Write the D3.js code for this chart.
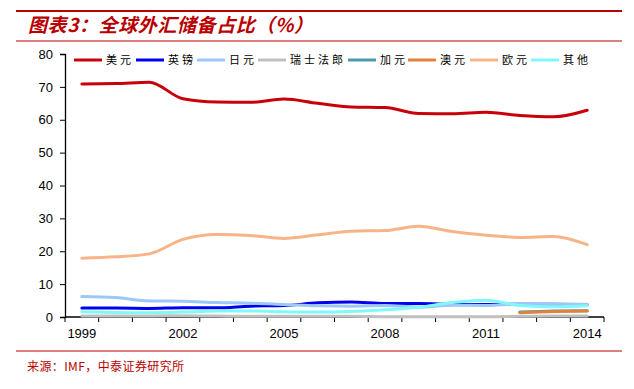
<!DOCTYPE html>
<html>
<head>
<meta charset="utf-8">
<script src="https://cdn.jsdelivr.net/npm/d3@7"></script>
<style>
  body { margin: 0; background: #fff; }
  svg text { font-family: "Liberation Sans", Arial, sans-serif; }
</style>
</head>
<body>
<div id="chart"></div>
<script>
// Data
const years = ["1999","2000","2001","2002","2003","2004","2005","2006","2007","2008","2009","2010","2011","2012","2013","2014"];
const yearLabels = ["1999","2002","2005","2008","2011","2014"];
const yTicks = [0,10,20,30,40,50,60,70,80];

const usd = [70.9,71.0,71.4,66.4,65.4,65.3,66.3,65.0,63.9,63.7,61.9,61.8,62.3,61.3,60.9,62.9];
const gbp = [2.7,2.7,2.6,2.8,2.8,3.3,3.5,4.3,4.6,4.1,4.1,3.9,3.8,3.9,3.9,3.8];
const jpy = [6.2,5.9,4.9,4.8,4.4,4.2,3.8,3.4,3.3,3.5,3.0,3.6,3.5,4.0,3.9,3.9];
const chf = [0.3,0.3,0.3,0.4,0.3,0.2,0.2,0.2,0.2,0.1,0.1,0.1,0.1,0.2,0.3,0.3];
const cad = [null,null,null,null,null,null,null,null,null,null,null,null,null,1.5,1.8,1.9];
const aud = [null,null,null,null,null,null,null,null,null,null,null,null,null,1.3,1.7,1.8];
const eur = [17.9,18.3,19.2,23.6,25.1,24.8,23.9,25.0,26.1,26.3,27.6,26.0,24.9,24.2,24.5,22.0];
const other = [1.6,1.4,1.3,1.5,1.8,1.8,1.6,1.5,1.7,2.2,3.0,4.4,5.1,3.5,3.1,3.4];

const seriesNames = ["美元","英镑","日元","瑞士法郎","加元","澳元","欧元","其他"];
const seriesValues = [usd, gbp, jpy, chf, cad, aud, eur, other];
const colors = ["#C8000A","#0000F0","#9CC8F8","#C0C0C0","#4A98B4","#E0823C","#F8B488","#80F8F8"];

const W = 634, H = 389;
const red = "#B80000";

const svg = d3.select("#chart").append("svg")
  .attr("width", W)
  .attr("height", H);

// header and footer rules
svg.append("line").attr("x1", 16).attr("x2", 622).attr("y1", 11).attr("y2", 11)
  .attr("stroke", red).attr("stroke-width", 2);
svg.append("line").attr("x1", 16).attr("x2", 622).attr("y1", 41).attr("y2", 41)
  .attr("stroke", red).attr("stroke-width", 1.2);
svg.append("line").attr("x1", 16).attr("x2", 622).attr("y1", 351).attr("y2", 351)
  .attr("stroke", red).attr("stroke-width", 1.2);

svg.append("text")
  .attr("x", 28).attr("y", 32)
  .attr("fill", red)
  .style("font-family", "'Noto Sans CJK SC', sans-serif")
  .style("font-size", "19px")
  .style("font-weight", "bold")
  .style("font-style", "italic")
  .style("letter-spacing", "0.6px")
  .text("图表3：全球外汇储备占比（%）");

svg.append("text")
  .attr("x", 27).attr("y", 371)
  .attr("fill", red)
  .style("font-family", "'Noto Sans CJK SC', sans-serif")
  .style("font-size", "12px")
  .style("letter-spacing", "0.4px")
  .text("来源：IMF，中泰证券研究所");

// scales
const x = d3.scaleBand().domain(years).range([65, 604]);
const y = d3.scaleLinear().domain([0, 80]).range([317, 54]);
const cx = d => x(d) + x.bandwidth() / 2;

// y axis
const yAxis = svg.append("g")
  .attr("transform", "translate(65,0)")
  .call(d3.axisLeft(y).tickValues(yTicks).tickSize(5).tickPadding(7));
yAxis.select(".domain").attr("stroke", "#000").attr("stroke-width", 1.3);
yAxis.selectAll("text").style("font-size", "13px").attr("fill", "#000");

// x axis: tick marks at band edges, labels every 3 years
const xAxis = svg.append("g").attr("transform", "translate(0,317)");
xAxis.append("line").attr("x1", 65).attr("x2", 604)
  .attr("stroke", "#000").attr("stroke-width", 1.3);
xAxis.selectAll("line.tk")
  .data(years.concat(["end"]))
  .enter().append("line")
  .attr("class", "tk")
  .attr("x1", (d, i) => 65 + i * x.bandwidth())
  .attr("x2", (d, i) => 65 + i * x.bandwidth())
  .attr("y1", 0).attr("y2", 5)
  .attr("stroke", "#000");
xAxis.selectAll("text")
  .data(yearLabels)
  .enter().append("text")
  .attr("x", d => cx(d))
  .attr("y", 21)
  .attr("text-anchor", "middle")
  .style("font-size", "13px")
  .text(d => d);

// lines
const line = d3.line()
  .defined(d => d.v != null)
  .x(d => cx(d.year))
  .y(d => y(d.v))
  .curve(d3.curveMonotoneX);

seriesValues.forEach((vals, k) => {
  svg.append("path")
    .datum(years.map((yr, i) => ({ year: yr, v: vals[i] })))
    .attr("d", line)
    .attr("fill", "none")
    .attr("stroke", colors[k])
    .attr("stroke-width", 3)
    .attr("stroke-linecap", "round");
});

// legend
const legendX = [74, 136, 197, 258, 348, 408, 470, 531];
const legend = svg.append("g").attr("transform", "translate(0,60)");
seriesNames.forEach((name, k) => {
  legend.append("line")
    .attr("x1", legendX[k]).attr("x2", legendX[k] + 28)
    .attr("y1", 0).attr("y2", 0)
    .attr("stroke", colors[k]).attr("stroke-width", 3);
  legend.append("text")
    .attr("x", legendX[k] + 32).attr("y", 4)
    .style("font-family", "'Noto Sans CJK SC', sans-serif")
    .style("font-size", "11px")
    .style("letter-spacing", "3px")
    .attr("fill", "#000")
    .text(name);
});
</script>
</body>
</html>
